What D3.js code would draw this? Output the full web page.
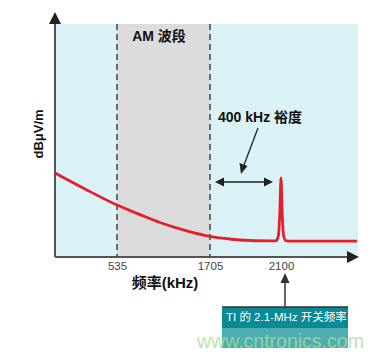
<!DOCTYPE html>
<html>
<head>
<meta charset="utf-8">
<script src="https://cdn.jsdelivr.net/npm/d3@7"></script>
<style>
  body { margin: 0; background: #fff; }
  text { font-family: "Liberation Sans", Arial, "Noto Sans CJK SC", sans-serif; }
</style>
</head>
<body>
<div id="chart"></div>
<script>
// data
var freq  = [150, 336, 535, 824, 1076, 1390, 1705, 1872, 2039, 2070, 2085, 2093, 2100, 2107, 2115, 2130, 2160, 2300, 2525];
var level = [36.05, 29.2, 22.3, 18.2, 14.8, 11.4, 8.8, 7.3, 6.9, 6.9, 9, 18, 34, 18, 9, 6.9, 6.8, 6.8, 6.8];
var tickValues = [535, 1705, 2100];
var amBand = [535, 1705];
var marginBand = [1705, 2100];

var svgWidth = 381;
var svgHeight = 358;

var svg = d3.select("#chart")
    .append("svg")
    .attr("width", svgWidth)
    .attr("height", svgHeight);

// frequency axis is schematic, not linear
var x = d3.scaleLinear()
    .domain([150, 535, 1705, 2100, 2530])
    .range([55, 117, 210, 281, 358]);

var y = d3.scaleLinear()
    .domain([0, 100])
    .range([257, 24]);

// backgrounds
svg.append("rect")
    .attr("x", x(150)).attr("y", y(100))
    .attr("width", x(2530) - x(150)).attr("height", y(0) - y(100))
    .attr("fill", "#daf1f6");

svg.append("rect")
    .attr("x", x(amBand[0])).attr("y", y(100))
    .attr("width", x(amBand[1]) - x(amBand[0])).attr("height", y(0) - y(100))
    .attr("fill", "#dcdcdd");

// dashed band edges
svg.selectAll(".edge")
    .data(amBand)
    .enter()
    .append("line")
    .attr("x1", d => x(d)).attr("x2", d => x(d))
    .attr("y1", y(100)).attr("y2", y(0))
    .attr("stroke", "#444")
    .attr("stroke-width", 1.5)
    .attr("stroke-dasharray", "6,4");

// axes with arrows
svg.append("line")
    .attr("x1", 55).attr("x2", 55)
    .attr("y1", y(0)).attr("y2", 22)
    .attr("stroke", "#555").attr("stroke-width", 2);
svg.append("path")
    .attr("d", "M55,12 L61,24 L49,24 Z")
    .attr("fill", "#222");

svg.append("line")
    .attr("x1", 55).attr("x2", 349)
    .attr("y1", y(0)).attr("y2", y(0))
    .attr("stroke", "#555").attr("stroke-width", 2);
svg.append("path")
    .attr("d", "M359,257 L347,251 L347,263 Z")
    .attr("fill", "#222");

var xAxis = d3.axisBottom(x)
    .tickValues(tickValues)
    .tickFormat(d3.format("d"))
    .tickSize(0)
    .tickPadding(5);

var gx = svg.append("g")
    .attr("transform", `translate(0, ${y(0)})`)
    .call(xAxis);
gx.select(".domain").remove();
gx.selectAll("text")
    .attr("font-size", "11.5px")
    .attr("fill", "#444")
    .style("font-family", "\"Liberation Sans\", Arial, sans-serif");

// the emission curve
var line = d3.line()
    .x((d, i) => x(freq[i]))
    .y(d => y(d))
    .curve(d3.curveMonotoneX);

svg.append("path")
    .datum(level)
    .attr("d", line)
    .attr("fill", "none")
    .attr("stroke", "#e3202a")
    .attr("stroke-width", 2.8)
    .attr("stroke-linejoin", "round");

// labels
svg.append("text")
    .attr("x", 159).attr("y", 41)
    .attr("text-anchor", "middle")
    .attr("font-size", "14px")
    .attr("font-weight", "bold")
    .attr("fill", "#111")
    .text("AM 波段");

svg.append("text")
    .attr("x", 218).attr("y", 122)
    .attr("font-size", "14px")
    .attr("font-weight", "bold")
    .attr("fill", "#111")
    .text("400 kHz 裕度");

svg.append("text")
    .attr("transform", "translate(43, 134) rotate(-90)")
    .attr("text-anchor", "middle")
    .attr("font-size", "13px")
    .attr("font-weight", "bold")
    .attr("fill", "#111")
    .text("dBμV/m");

svg.append("text")
    .attr("x", 165).attr("y", 288)
    .attr("text-anchor", "middle")
    .attr("font-size", "15px")
    .attr("font-weight", "bold")
    .attr("fill", "#111")
    .text("频率(kHz)");

// 400 kHz margin arrows
var ay = 182;
svg.append("line")
    .attr("x1", x(marginBand[0]) + 8).attr("x2", x(marginBand[1]) - 12)
    .attr("y1", ay).attr("y2", ay)
    .attr("stroke", "#222").attr("stroke-width", 1.3);
svg.append("path")
    .attr("d", `M${x(marginBand[0]) + 5},${ay} l9,-4.5 l0,9 Z`)
    .attr("fill", "#222");
svg.append("path")
    .attr("d", `M${x(marginBand[1]) - 8},${ay} l-9,-4.5 l0,9 Z`)
    .attr("fill", "#222");

svg.append("line")
    .attr("x1", 258).attr("y1", 128)
    .attr("x2", 244).attr("y2", 165)
    .attr("stroke", "#222").attr("stroke-width", 1.3);
svg.append("path")
    .attr("d", "M241,174 L239.5,163 L247.5,166 Z")
    .attr("fill", "#222");

// callout box for 2100
var bx = x(2100) + 4;
svg.append("line")
    .attr("x1", bx).attr("x2", bx)
    .attr("y1", 307).attr("y2", 282)
    .attr("stroke", "#333").attr("stroke-width", 1.5);
svg.append("path")
    .attr("d", `M${bx},273 l-4.5,10 l9,0 Z`)
    .attr("fill", "#333");

svg.append("rect")
    .attr("x", 222).attr("y", 327)
    .attr("width", 126).attr("height", 21)
    .attr("fill", "#4eadb3");
svg.append("rect")
    .attr("x", 222).attr("y", 307)
    .attr("width", 126).attr("height", 21)
    .attr("fill", "#0b8a93");
svg.append("line")
    .attr("x1", 222).attr("x2", 348)
    .attr("y1", 307).attr("y2", 307)
    .attr("stroke", "#333").attr("stroke-width", 1.5);

svg.append("text")
    .attr("x", 226).attr("y", 321)
    .attr("font-size", "11.5px")
    .attr("fill", "#fff")
    .text("TI 的 2.1-MHz 开关频率");

// watermark
svg.append("text")
    .attr("x", 197).attr("y", 348)
    .attr("font-size", "19.5px")
    .attr("fill", "#a8dc96")
    .attr("fill-opacity", 0.8)
    .text("www.cntronics.com");
</script>
</body>
</html>
